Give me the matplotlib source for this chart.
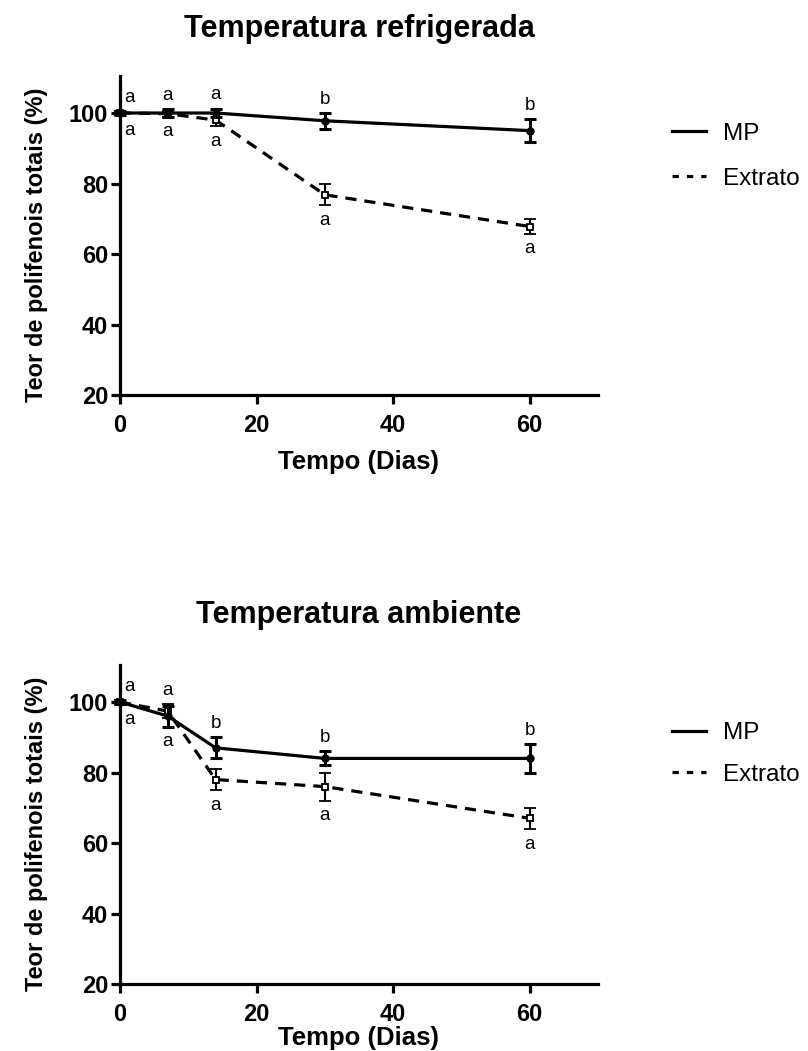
import matplotlib
matplotlib.use('Agg')
from matplotlib import pyplot as plt
from matplotlib.lines import Line2D

plt.rcParams['font.family'] = ['Liberation Sans', 'DejaVu Sans']

days = [0, 7, 14, 30, 60]

# Temperatura refrigerada
refr_mp = [100, 100, 100, 97.8, 95.0]
refr_mp_err = [0.5, 1.0, 1.2, 2.2, 3.3]
refr_ext = [100, 99.8, 98.0, 76.8, 67.8]
refr_ext_err = [0.5, 0.8, 1.8, 3.0, 2.0]
refr_top_letters = ['a', 'a', 'a', 'b', 'b']
refr_bot_letters = ['a', 'a', 'a', 'a', 'a']

# Temperatura ambiente
amb_mp = [100, 96.0, 87.0, 84.0, 84.0]
amb_mp_err = [0.5, 3.0, 3.0, 2.0, 4.0]
amb_ext = [100, 97.4, 78.0, 76.0, 67.0]
amb_ext_err = [0.5, 2.0, 3.0, 4.0, 3.0]
amb_top_letters = ['a', 'a', 'b', 'b', 'b']
amb_bot_letters = ['a', 'a', 'a', 'a', 'a']

W, H = 808, 1051
fig = plt.figure(figsize=(W/100., H/100.), dpi=100)


def draw_panel(ax, title, mp, mp_err, ext, ext_err, top_l, bot_l,
               title_pad, xlabelpad, leg_y, leg_sp):
    ax.errorbar(days, mp, mp_err, fmt='-o', color='black', lw=2.3, ms=5,
                capsize=4, elinewidth=2.2, capthick=2.2, clip_on=False, zorder=4)
    ax.errorbar(days, ext, ext_err, fmt='--s', color='black', lw=2.3, ms=5,
                mfc='white', mew=1.3, dashes=(3.5, 2.5), capsize=4,
                elinewidth=1.5, capthick=1.5, clip_on=False, zorder=3)
    for i, d in enumerate(days):
        hi = max(mp[i] + mp_err[i], ext[i] + ext_err[i])
        lo = min(mp[i] - mp_err[i], ext[i] - ext_err[i])
        dx = 7 if d == 0 else 0
        ax.annotate(top_l[i], (d, hi), xytext=(dx, 10), textcoords='offset points',
                    ha='center', va='center', fontsize=13.5)
        ax.annotate(bot_l[i], (d, lo), xytext=(dx, -11), textcoords='offset points',
                    ha='center', va='center', fontsize=13.5)
    ax.set_xlim(0, 70)
    ax.set_ylim(20, 110.5)
    ax.set_xticks([0, 20, 40, 60])
    ax.set_yticks([20, 40, 60, 80, 100])
    for s in ['top', 'right']:
        ax.spines[s].set_visible(False)
    for s in ['left', 'bottom']:
        ax.spines[s].set_linewidth(2.3)
    ax.tick_params(width=2.3, length=6.5, labelsize=17)
    ax.tick_params(axis='x', pad=7)
    ax.tick_params(axis='y', pad=2)
    for lab in ax.get_xticklabels() + ax.get_yticklabels():
        lab.set_fontweight('bold')
    ax.set_title(title, fontsize=22, fontweight='bold', pad=title_pad)
    ax.set_xlabel('Tempo (Dias)', fontsize=18.5, fontweight='bold', labelpad=xlabelpad)
    ax.set_ylabel('Teor de polifenois totais (%)', fontsize=17, fontweight='bold')
    ax.yaxis.set_label_coords(-0.15, 0.47)
    handles = [Line2D([], [], color='black', lw=2.3),
               Line2D([], [], color='black', lw=2.3, ls='--', dashes=(2, 2.5))]
    ax.legend(handles, ['MP', 'Extrato'], loc='center left', bbox_to_anchor=(1.109, leg_y),
              frameon=False, fontsize=17.5, handlelength=1.4, handletextpad=0.7,
              labelspacing=leg_sp)
    return ax


ax1 = fig.add_axes([120/W, 1 - 395/H, 478/W, 319/H])
draw_panel(ax1, 'Temperatura refrigerada', refr_mp, refr_mp_err, refr_ext, refr_ext_err,
           refr_top_letters, refr_bot_letters, 28, 9.5, 0.748, 0.95)

ax2 = fig.add_axes([120/W, 1 - 984/H, 478/W, 319/H])
draw_panel(ax2, 'Temperatura ambiente', amb_mp, amb_mp_err, amb_ext, amb_ext_err,
           amb_top_letters, amb_bot_letters, 30, 0, 0.721, 0.8)

fig.savefig('out.png', dpi=100)
